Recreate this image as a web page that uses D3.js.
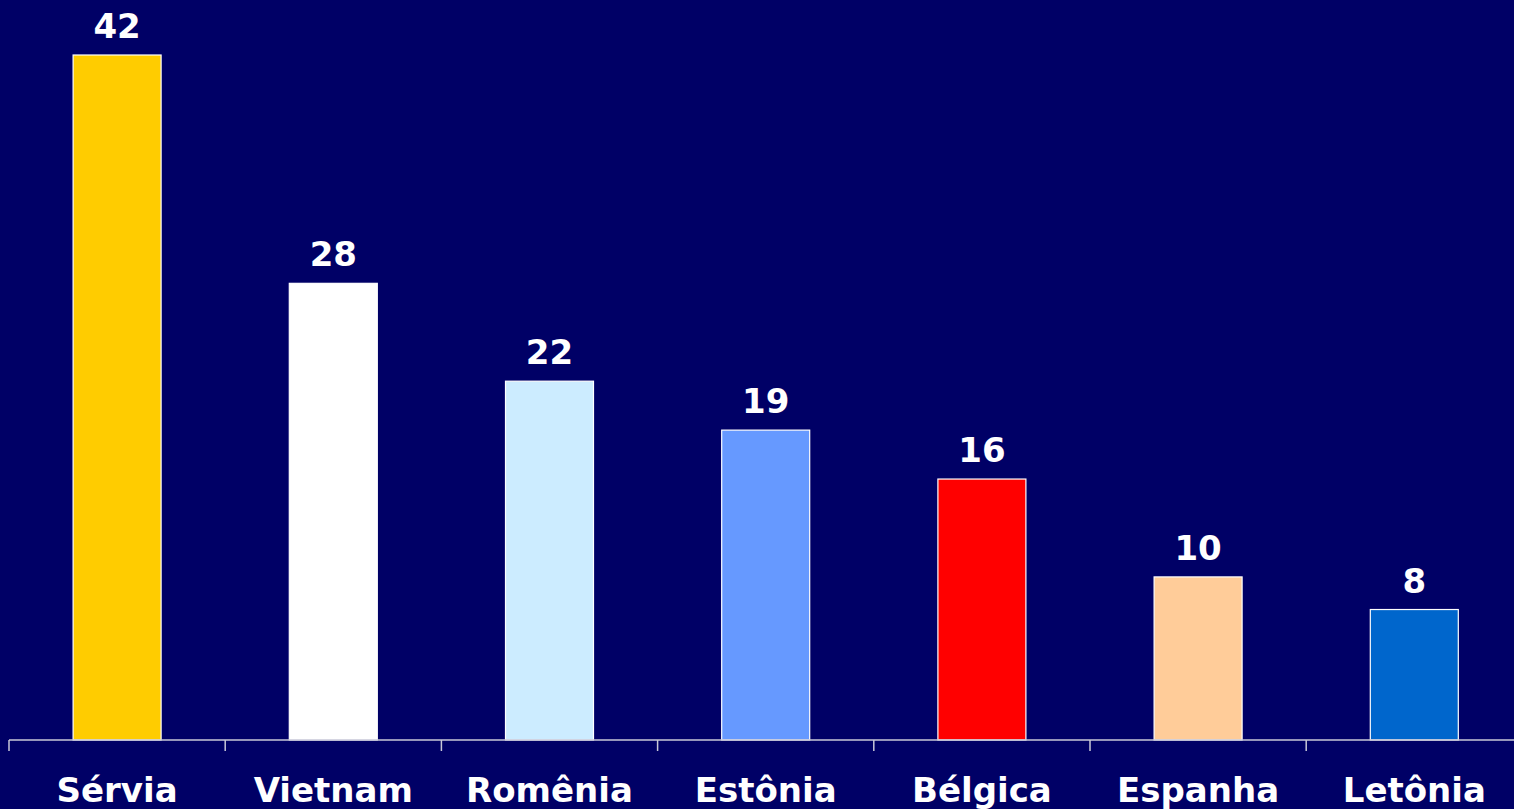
<!DOCTYPE html>
<html>
<head>
<meta charset="UTF-8">
<title>Chart</title>
<script src="https://cdn.jsdelivr.net/npm/d3@7/dist/d3.min.js"></script>
<style>
	html, body { margin: 0; padding: 0; background: #000066; overflow: hidden; }
	text { font-family: "DejaVu Sans", Verdana, sans-serif; font-weight: bold; fill: #ffffff; }
</style>
</head>
<body>
<svg id="chart" width="1514" height="809"></svg>
<script>
	var categories = ["Sérvia", "Vietnam", "Romênia", "Estônia", "Bélgica", "Espanha", "Letônia"];
	var values = [42, 28, 22, 19, 16, 10, 8];
	var colors = ["#FFCC00", "#FFFFFF", "#CCECFF", "#6699FF", "#FF0000", "#FFCC99", "#0066CC"];

	var svg = d3.select("#chart");
	var x = d3.scaleBand().domain(categories).range([9, 9 + 216.2 * 7]).padding(0);
	var y = d3.scaleLinear().domain([0, 42]).range([740, 55]);
	var barW = 88;

	// bars
	svg.selectAll(".bar").data(values).enter().append("rect")
		.attr("class", "bar")
		.attr("x", function (d, i) { return x(categories[i]) + x.bandwidth() / 2 - barW / 2; })
		.attr("y", function (d) { return y(d); })
		.attr("width", barW)
		.attr("height", function (d) { return y(0) - y(d); })
		.attr("fill", function (d, i) { return colors[i]; })
		.attr("stroke", "#ffffff")
		.attr("stroke-width", 1.2);

	// value labels
	svg.selectAll(".val").data(values).enter().append("text")
		.attr("class", "val")
		.attr("x", function (d, i) { return x(categories[i]) + x.bandwidth() / 2; })
		.attr("y", function (d) { return y(d) - 17; })
		.attr("text-anchor", "middle")
		.style("font-size", "34px")
		.text(function (d) { return d; });

	// axis line + ticks at band edges
	svg.append("line")
		.attr("x1", 9).attr("x2", 1514)
		.attr("y1", 740).attr("y2", 740)
		.attr("stroke", "#c8c8d8").attr("stroke-width", 1.5);
	svg.selectAll(".tick").data(categories).enter().append("line")
		.attr("class", "tick")
		.attr("x1", function (d) { return x(d); })
		.attr("x2", function (d) { return x(d); })
		.attr("y1", 740).attr("y2", 751)
		.attr("stroke", "#c8c8d8").attr("stroke-width", 1.5);

	// category labels
	svg.selectAll(".cat").data(categories).enter().append("text")
		.attr("class", "cat")
		.attr("x", function (d) { return x(d) + x.bandwidth() / 2; })
		.attr("y", 802)
		.attr("text-anchor", "middle")
		.style("font-size", "34px")
		.text(function (d) { return d; });
</script>
</body>
</html>
